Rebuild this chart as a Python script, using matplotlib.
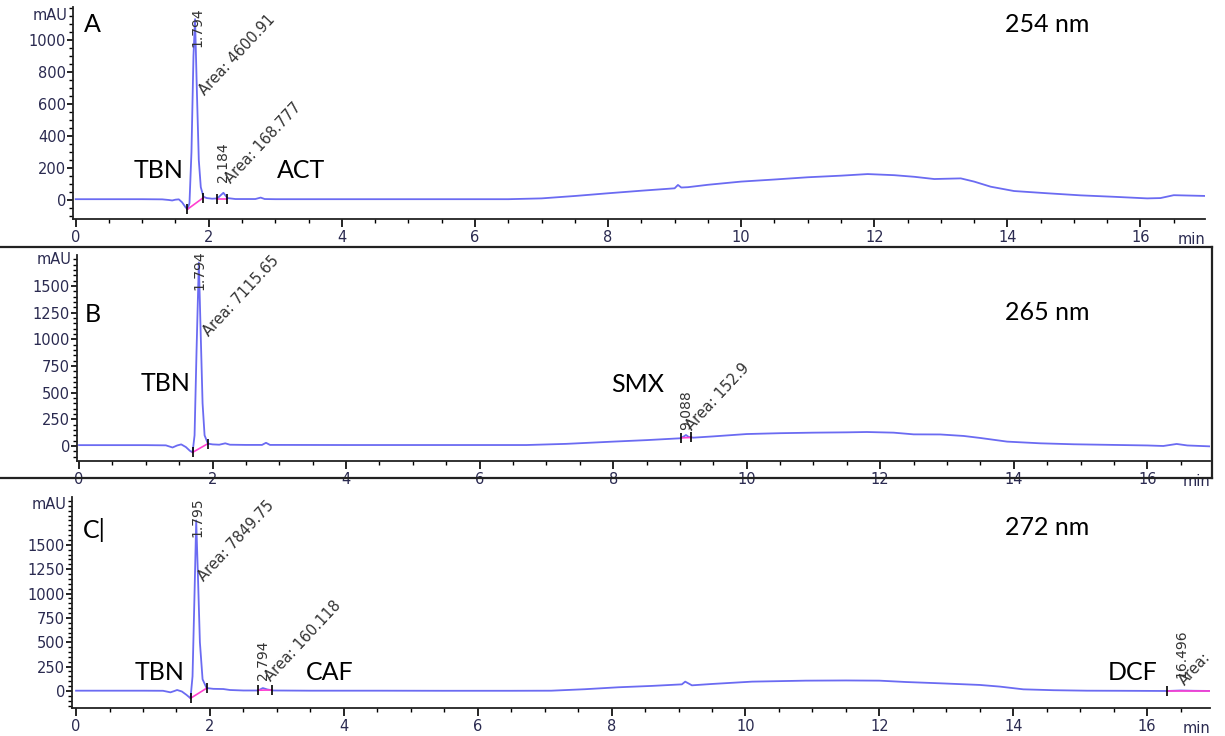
import matplotlib
matplotlib.use('Agg')
import matplotlib.pyplot as plt
from matplotlib.lines import Line2D
from matplotlib.ticker import MultipleLocator


# Panel A, 254 nm: trace (min, mAU)
time_a = [0, 0.5, 1.0, 1.3, 1.40, 1.45, 1.50, 1.55, 1.60, 1.65, 1.68, 1.71, 1.74, 1.77, 1.794,
          1.82, 1.85, 1.88, 1.92, 1.97, 2.05, 2.13, 2.18, 2.22, 2.28, 2.4, 2.7, 2.78, 2.84, 3.0,
          4.0, 5.0, 6.0, 6.5, 7.0, 7.5, 8.0, 8.5, 9.0, 9.05, 9.1, 9.2, 9.5, 10.0, 10.5, 11.0,
          11.5, 11.9, 12.3, 12.6, 12.9, 13.3, 13.5, 13.75, 14.1, 14.6, 15.1, 15.6, 16.1, 16.3,
          16.5, 16.7, 17.0]
mau_a = [5, 5, 5, 4, 0, -3, 2, 4, -15, -45, -58, -20, 300, 900, 1130,
         700, 250, 80, 20, 12, 8, 10, 30, 45, 12, 6, 6, 15, 6, 5,
         5, 5, 5, 5, 10, 25, 42, 58, 73, 94, 78, 80, 95, 115, 128, 142,
         152, 162, 155, 145, 131, 135, 115, 83, 56, 42, 29, 20, 10, 12,
         30, 28, 25]

# Panel B, 265 nm
time_b = [0, 0.5, 1.0, 1.3, 1.40, 1.47, 1.53, 1.60, 1.66, 1.70, 1.73, 1.76, 1.794, 1.82,
          1.85, 1.88, 1.93, 2.0, 2.1, 2.19, 2.26, 2.5, 2.74, 2.8, 2.86, 3.0, 4.0, 5.0, 6.0,
          6.7, 7.3, 8.0, 8.5, 9.0, 9.06, 9.09, 9.13, 9.2, 9.5, 10.0, 10.5, 11.0, 11.5, 11.8,
          12.2, 12.5, 12.9, 13.25, 13.5, 13.9, 14.4, 14.9, 15.5, 16.0, 16.24, 16.44, 16.6, 17.0]
mau_b = [8, 8, 8, 6, -14, 5, 15, -10, -45, -60, 100, 900, 1720, 1100,
         400, 100, 22, 15, 12, 25, 12, 10, 10, 30, 10, 10, 9, 9, 9,
         9, 20, 41, 55, 72, 90, 103, 85, 78, 90, 112, 120, 125, 128, 131,
         125, 109, 108, 94, 75, 41, 25, 16, 10, 5, 0, 19, 5, -5]

# Panel C, 272 nm
time_c = [0, 0.5, 1.0, 1.3, 1.41, 1.47, 1.51, 1.58, 1.65, 1.71, 1.74, 1.77, 1.795, 1.82,
          1.85, 1.89, 1.95, 2.05, 2.2, 2.3, 2.5, 2.72, 2.79, 2.86, 2.95, 3.5, 4.5, 5.5, 6.5,
          7.1, 7.6, 8.1, 8.6, 9.05, 9.1, 9.2, 9.5, 10.1, 10.9, 11.5, 12.0, 12.4, 12.9, 13.5,
          13.8, 14.15, 14.6, 15.1, 15.6, 16.3, 16.5, 16.7, 17.0]
mau_c = [3, 3, 3, 2, -14, 0, 10, -5, -40, -75, 150, 1000, 1750, 1200,
         500, 120, 30, 22, 20, 10, 5, 5, 30, 15, 5, 3, 3, 2, 2,
         3, 18, 38, 52, 68, 96, 58, 72, 96, 106, 108, 106, 92, 79, 62,
         45, 17, 8, 3, 2, 0, 5, 2, 0]

# integration baselines (t0, y0, t1, y1)
base_a = [(1.68, -58, 1.92, 15), (2.13, 8, 2.28, 8)]
base_b = [(1.70, -60, 1.93, 22), (9.02, 76, 9.17, 80)]
base_c = [(1.71, -75, 1.95, 28), (2.72, 8, 2.92, 10), (16.3, 0, 17.05, 0)]

# peak labels
rt_a = ['1.794', '2.184']
area_a = ['Area: 4600.91', 'Area: 168.777']
rt_b = ['1.794', '9.088']
area_b = ['Area: 7115.65', 'Area: 152.9']
rt_c = ['1.795', '2.794', '16.496']
area_c = ['Area: 7849.75', 'Area: 160.118', 'Area:']

names_a = ['TBN', 'ACT']
names_b = ['TBN', 'SMX']
names_c = ['TBN', 'CAF', 'DCF']

LINE = '#6b6bf2'
PINK = '#ff3fd0'
TICKCOL = '#2a2a50'


def setup_axes(ax, x0, x1, y0, y1, top_tick, mau_y):
    ax.set_xlim(x0, x1)
    ax.set_ylim(y0, y1)
    for s in ['top', 'right']:
        ax.spines[s].set_visible(False)
    for s in ['left', 'bottom']:
        ax.spines[s].set_color('#222222')
        ax.spines[s].set_linewidth(1.3)
    ax.set_xticks(range(0, 17, 2))
    ax.xaxis.set_minor_locator(MultipleLocator(0.5))
    step = 200 if top_tick == 1000 else 250
    ax.set_yticks(range(0, top_tick + 1, step))
    ax.yaxis.set_minor_locator(MultipleLocator(50))
    ax.tick_params(axis='x', which='major', length=6, width=1.2, pad=2, labelsize=10.5,
                   labelcolor=TICKCOL)
    ax.tick_params(axis='x', which='minor', length=3, width=1.0)
    ax.tick_params(axis='y', which='major', length=4, width=1.2, pad=1, labelsize=10.5,
                   labelcolor=TICKCOL)
    ax.tick_params(axis='y', which='minor', length=3, width=1.0)
    ax.annotate('mAU', xy=(0, mau_y), xycoords=('axes fraction', 'data'), xytext=(-4, 0),
                textcoords='offset points', ha='right', va='center', fontsize=10.5, color=TICKCOL)
    ax.annotate('min', xy=(1, 0), xycoords='axes fraction', xytext=(0, -15),
                textcoords='offset points', ha='right', va='center', fontsize=10.5, color=TICKCOL)


def draw_trace(ax, t, y, bases):
    ax.plot(t, y, color=LINE, lw=1.3, zorder=3)
    for t0, y0, t1, y1 in bases:
        ax.plot([t0, t1], [y0, y1], color=PINK, lw=1.2, zorder=4)
        ax.plot([t0, t1], [y0, y1], ls='none', marker='|', ms=7, mew=1.2, color='k', zorder=5)


def rt_text(ax, x, y, txt):
    # retention time, reads bottom to top, centred on the peak
    ax.text(x, y, txt, rotation=90, rotation_mode='anchor', ha='left', va='center',
            fontsize=10, color='#333333', zorder=6, clip_on=False)


def area_text(ax, x, y, txt):
    ax.text(x, y, txt, rotation=47, rotation_mode='anchor', ha='left', va='bottom',
            fontsize=10.5, color='#333333', zorder=6, clip_on=False)


big = dict(family='Lato', fontsize=18, color='black', zorder=6)

fig = plt.figure(figsize=(12.25, 7.36), dpi=100)

# ---------- A ----------
ax_a = fig.add_axes([0.0596, 0.7024, 0.9241, 0.2881])
setup_axes(ax_a, -0.04, 16.97, -119, 1206, 1000, 1150)
draw_trace(ax_a, time_a, mau_a, base_a)
rt_text(ax_a, 1.83, 956, rt_a[0])
area_text(ax_a, 1.97, 640, area_a[0])
rt_text(ax_a, 2.21, 112, rt_a[1])
area_text(ax_a, 2.36, 90, area_a[1])
ax_a.text(1.25, 187, names_a[0], ha='center', va='center', **big)
ax_a.text(3.38, 187, names_a[1], ha='center', va='center', **big)
ax_a.text(0.12, 1094, 'A', ha='left', va='center', **big)
ax_a.text(13.96, 1094, '254 nm', ha='left', va='center', **big)

# ---------- B ----------
ax_b = fig.add_axes([0.0629, 0.3736, 0.9249, 0.2799])
setup_axes(ax_b, -0.03, 16.94, -141, 1790, 1500, 1744)
draw_trace(ax_b, time_b, mau_b, base_b)
rt_text(ax_b, 1.81, 1462, rt_b[0])
area_text(ax_b, 1.98, 1000, area_b[0])
rt_text(ax_b, 9.09, 150, rt_b[1])
area_text(ax_b, 9.22, 125, area_b[1])
ax_b.text(1.30, 590, names_b[0], ha='center', va='center', **big)
ax_b.text(8.37, 572, names_b[1], ha='center', va='center', **big)
ax_b.text(0.08, 1228, 'B', ha='left', va='center', **big)
ax_b.text(13.87, 1247, '265 nm', ha='left', va='center', **big)

# ---------- C ----------
ax_c = fig.add_axes([0.0588, 0.038, 0.929, 0.287])
setup_axes(ax_c, -0.06, 16.94, -175, 1993, 1500, 1910)
draw_trace(ax_c, time_c, mau_c, base_c)
rt_text(ax_c, 1.81, 1582, rt_c[0])
area_text(ax_c, 1.95, 1100, area_c[0])
rt_text(ax_c, 2.79, 113, rt_c[1])
area_text(ax_c, 2.95, 75, area_c[1])
rt_text(ax_c, 16.51, 133, rt_c[2])
area_text(ax_c, 16.60, 35, area_c[2])
ax_c.text(1.25, 185, names_c[0], ha='center', va='center', **big)
ax_c.text(3.79, 185, names_c[1], ha='center', va='center', **big)
ax_c.text(15.78, 185, names_c[2], ha='center', va='center', **big)
ax_c.text(0.10, 1653, 'C|', ha='left', va='center', **big)
ax_c.text(13.88, 1674, '272 nm', ha='left', va='center', **big)

# panel frame lines
fig.add_artist(Line2D([0, 0.989], [0.6644, 0.6644], color='#222222', lw=1.6))
fig.add_artist(Line2D([0, 0.989], [0.3505, 0.3505], color='#222222', lw=1.6))
fig.add_artist(Line2D([0.989, 0.989], [0.3505, 0.6644], color='#222222', lw=1.6))

fig.savefig('out.png', dpi=100)
